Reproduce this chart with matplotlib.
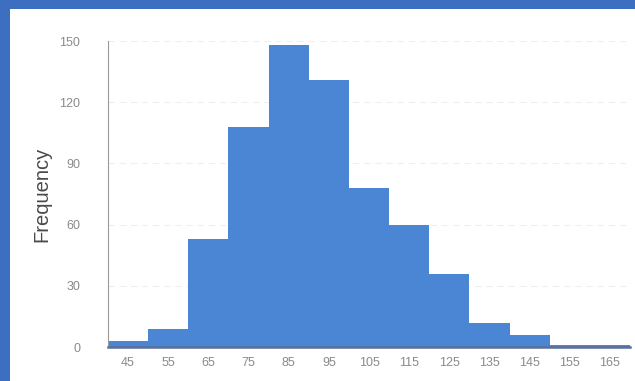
import matplotlib.pyplot as plt
from matplotlib.patches import Rectangle

plt.rcParams['font.family'] = ['Liberation Sans', 'DejaVu Sans']

bin_labels = ["45", "55", "65", "75", "85", "95", "105", "115", "125", "135", "145", "155", "165"]
frequency = [3, 9, 53, 108, 148, 131, 78, 60, 36, 12, 6, 1, 1]
y_ticks = [0, 30, 60, 90, 120, 150]

fig = plt.figure(figsize=(6.35, 3.81), dpi=100)
fig.patch.set_facecolor('#3d6fc0')
# white slide panel inside the blue frame
fig.patches.append(Rectangle((10 / 635, 0), 1, 1 - 9 / 381, transform=fig.transFigure,
                             facecolor='white', edgecolor='none', zorder=-10))

ax = fig.add_axes([108 / 635, 1 - 347 / 381, 522 / 635, 306 / 381])
ax.set_zorder(5)
ax.set_facecolor('none')

pos = list(range(len(bin_labels)))
ax.bar(pos, frequency, width=1.0, color='#4a86d4', edgecolor='none', zorder=2)

ax.set_xlim(-0.5, len(bin_labels) - 0.5)
ax.set_ylim(0, 150)
ax.set_xticks(pos)
ax.set_xticklabels(bin_labels)
ax.set_yticks(y_ticks)
ax.tick_params(axis='both', length=0, labelsize=9, colors='#8a8a8a')
ax.tick_params(axis='y', pad=20)
ax.tick_params(axis='x', pad=7)
ax.set_ylabel("Frequency", fontsize=14.5, color='#4a4a4a', labelpad=6)

ax.yaxis.grid(True, color='#efefef', linewidth=0.8, linestyle=(0, (6, 4)), zorder=0)
for s in ['top', 'right']:
    ax.spines[s].set_visible(False)
ax.spines['left'].set_color('#9a9a9a')
ax.spines['left'].set_linewidth(0.8)
ax.spines['bottom'].set_color('#5a6f9a')
ax.spines['bottom'].set_linewidth(1.8)
ax.spines['bottom'].set_zorder(3)

plt.savefig('out.png', dpi=100, facecolor=fig.get_facecolor())
